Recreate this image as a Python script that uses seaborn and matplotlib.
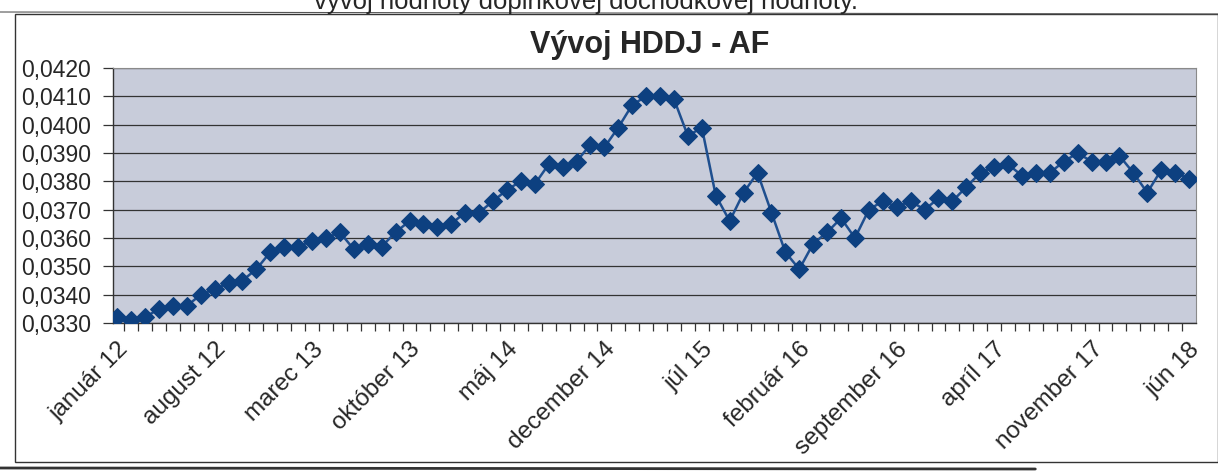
import matplotlib

matplotlib.use("Agg")
import matplotlib.pyplot as plt
import matplotlib.transforms as mtransforms
import numpy as np
import pandas as pd
import seaborn as sns
from matplotlib.lines import Line2D
from matplotlib.patches import Rectangle
from matplotlib.ticker import FixedLocator, FuncFormatter

# monthly values, január 2012 .. jún 2018
months = [
    "január 12", "február 12", "marec 12", "apríl 12", "máj 12", "jún 12",
    "júl 12", "august 12", "september 12", "október 12", "november 12", "december 12",
    "január 13", "február 13", "marec 13", "apríl 13", "máj 13", "jún 13",
    "júl 13", "august 13", "september 13", "október 13", "november 13", "december 13",
    "január 14", "február 14", "marec 14", "apríl 14", "máj 14", "jún 14",
    "júl 14", "august 14", "september 14", "október 14", "november 14", "december 14",
    "január 15", "február 15", "marec 15", "apríl 15", "máj 15", "jún 15",
    "júl 15", "august 15", "september 15", "október 15", "november 15", "december 15",
    "január 16", "február 16", "marec 16", "apríl 16", "máj 16", "jún 16",
    "júl 16", "august 16", "september 16", "október 16", "november 16", "december 16",
    "január 17", "február 17", "marec 17", "apríl 17", "máj 17", "jún 17",
    "júl 17", "august 17", "september 17", "október 17", "november 17", "december 17",
    "január 18", "február 18", "marec 18", "apríl 18", "máj 18", "jún 18",
]
hddj = [
    0.0332, 0.0331, 0.0332, 0.0335, 0.0336, 0.0336, 0.0340, 0.0342, 0.0344, 0.0345,
    0.0349, 0.0355, 0.0357, 0.0357, 0.0359, 0.0360, 0.0362, 0.0356, 0.0358, 0.0357,
    0.0362, 0.0366, 0.0365, 0.0364, 0.0365, 0.0369, 0.0369, 0.0373, 0.0377, 0.0380,
    0.0379, 0.0386, 0.0385, 0.0387, 0.0393, 0.0392, 0.0399, 0.0407, 0.0410, 0.0410,
    0.0409, 0.0396, 0.0399, 0.0375, 0.0366, 0.0376, 0.0383, 0.0369, 0.0355, 0.0349,
    0.0358, 0.0362, 0.0367, 0.0360, 0.0370, 0.0373, 0.0371, 0.0373, 0.0370, 0.0374,
    0.0373, 0.0378, 0.0383, 0.0385, 0.0386, 0.0382, 0.0383, 0.0383, 0.0387, 0.0390,
    0.0387, 0.0387, 0.0389, 0.0383, 0.0376, 0.0384, 0.0383, 0.0381,
]
y_ticks = [0.0330, 0.0340, 0.0350, 0.0360, 0.0370, 0.0380, 0.0390, 0.0400, 0.0410, 0.0420]

df = pd.DataFrame({"mesiac": months, "HDDJ": hddj})
df["idx"] = np.arange(len(df))

sns.set_theme(style="white")
plt.rcParams["font.family"] = ["Liberation Sans", "DejaVu Sans"]

fig = plt.figure(figsize=(12.18, 4.75), dpi=100)
ax = fig.add_axes([113 / 1218, 1 - 323 / 475, (1196 - 113) / 1218, (323 - 68) / 475])
ax.set_facecolor("#c8ccda")

sns.lineplot(
    data=df,
    x="idx",
    y="HDDJ",
    ax=ax,
    color="#1f4f8f",
    linewidth=1.8,
    marker="D",
    markersize=9.5,
    markerfacecolor="#0d4080",
    markeredgecolor="#0d4080",
    zorder=3,
)

ax.set_xlim(-0.3, 77.5)
ax.set_ylim(0.0330, 0.0420)
ax.set_yticks(y_ticks)
ax.yaxis.set_major_formatter(FuncFormatter(lambda v, _: f"{v:.4f}".replace(".", ",")))
ax.grid(axis="y", color="#333333", linewidth=0.9)
ax.grid(axis="x", visible=False)

label_pos = list(range(0, len(months), 7))
ax.set_xticks(label_pos)
ax.set_xticklabels([months[i] for i in label_pos], rotation=45, ha="right",
                   rotation_mode="anchor", fontsize=17.5)
shift = mtransforms.ScaledTranslation(-14 / 100, 0, fig.dpi_scale_trans)
for lbl in ax.get_xticklabels():
    lbl.set_transform(lbl.get_transform() + shift)
ax.xaxis.set_minor_locator(FixedLocator(np.arange(0.5, len(months) - 1, 1.0)))
ax.tick_params(axis="x", which="major", length=0, pad=11)
ax.tick_params(axis="x", which="minor", bottom=True, length=6, width=0.9, color="#333333")
ax.tick_params(axis="y", left=True, length=7, width=0.9, color="#333333", pad=9, labelsize=16.5)
ax.set_xlabel("")
ax.set_ylabel("")

for side in ["left", "bottom"]:
    ax.spines[side].set_color("#333333")
    ax.spines[side].set_linewidth(1.0)
for side in ["top", "right"]:
    ax.spines[side].set_color("#8a8a8a")
    ax.spines[side].set_linewidth(0.8)

fig.text(650 / 1218, 1 - 45 / 475, "Vývoj HDDJ - AF", ha="center", va="center",
         fontsize=22, fontweight="bold")

# cut-off text line of the scanned page above the chart
fig.text(858 / 1218, 1 - 9 / 475, "vývoj hodnoty doplnkovej dôchodkovej hodnoty.",
         ha="right", va="baseline", fontsize=18.5)

# page lines and chart border
fig.add_artist(Line2D([0.0, 1.0], [1 - 12 / 475, 1 - 14 / 475], color="#555555", linewidth=0.8))
fig.add_artist(Rectangle((15 / 1218, 1 - 462 / 475), (1218 - 15) / 1218, (462 - 14) / 475,
                         fill=False, edgecolor="#333333", linewidth=1.0))
fig.add_artist(Line2D([0.0, 0.85], [1 - 468 / 475, 1 - 469 / 475], color="#333333", linewidth=2.0))

fig.savefig("out.png", dpi=100)
